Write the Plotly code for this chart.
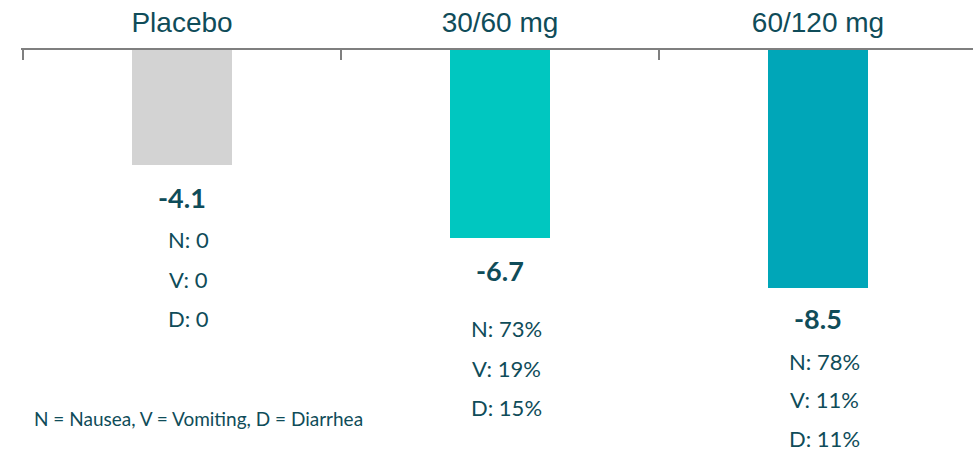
import plotly.graph_objects as go

# Treatment arms and mean change from baseline
categories = ["Placebo", "30/60 mg", "60/120 mg"]
change = [-4.1, -6.7, -8.5]
bar_colors = ["#D3D3D3", "#00C7C0", "#00A6B8"]

# GI adverse-event rates per arm
nausea = ["0", "73%", "78%"]
vomiting = ["0", "19%", "11%"]
diarrhea = ["0", "15%", "11%"]

footnote = "N = Nausea, V = Vomiting, D = Diarrhea"

TEXT = "#0F4C59"
W, H = 973, 452
TOP = 50
LEFT = 21
CAT_PX = 318.0
PX_PER_UNIT = 28.0
plot_h = H - TOP
x0 = -0.5 - (23 - LEFT) / CAT_PX

fig = go.Figure(
    go.Bar(
        x=categories,
        y=change,
        width=0.315,
        marker=dict(color=bar_colors, line=dict(width=0)),
        hoverinfo="skip",
    )
)

# value labels and AE lines below each bar (pixel offsets from bar end)
value_gap = [33, 33, 30]
first_line_gap = [75, 91, 73]
line_step = [39.5, 39.5, 38.5]
for i, cat in enumerate(categories):
    fig.add_annotation(
        x=cat, y=change[i], xref="x", yref="y",
        text=f"<b>{change[i]:.1f}</b>", showarrow=False,
        yanchor="middle", xanchor="center", yshift=-value_gap[i],
        font=dict(family="Lato", size=27, color=TEXT),
    )
    for j, line in enumerate([f"N: {nausea[i]}", f"V: {vomiting[i]}", f"D: {diarrhea[i]}"]):
        fig.add_annotation(
            x=cat, y=change[i], xref="x", yref="y",
            text=line, showarrow=False,
            yanchor="middle", xanchor="center",
            xshift=6, yshift=-(first_line_gap[i] + j * line_step[i]),
            font=dict(family="Lato", size=22, color=TEXT),
        )

fig.add_annotation(
    x=(35 - LEFT) / (W - LEFT), y=(H - 418) / plot_h, xref="paper", yref="paper",
    text=footnote, showarrow=False, xanchor="left", yanchor="middle",
    xshift=-3,
    font=dict(family="Lato", size=19, color=TEXT),
)

fig.update_layout(
    width=W, height=H,
    margin=dict(l=LEFT, r=0, t=TOP, b=0, pad=0),
    paper_bgcolor="white", plot_bgcolor="white",
    showlegend=False,
    bargap=0,
    xaxis=dict(
        side="top",
        range=[x0, x0 + (W - LEFT) / CAT_PX],
        showline=True, linecolor="#7F7F7F", linewidth=1.5,
        ticks="inside", tickson="boundaries", ticklen=10,
        tickcolor="#7F7F7F", tickwidth=1.5,
        showgrid=False, zeroline=False,
        tickfont=dict(family="Liberation Sans", size=28, color=TEXT),
        ticklabelstandoff=5,
    ),
    yaxis=dict(
        range=[-plot_h / PX_PER_UNIT, 0],
        showgrid=False, zeroline=False, showline=False,
        showticklabels=False, ticks="",
    ),
)

fig.write_html("out.html")
